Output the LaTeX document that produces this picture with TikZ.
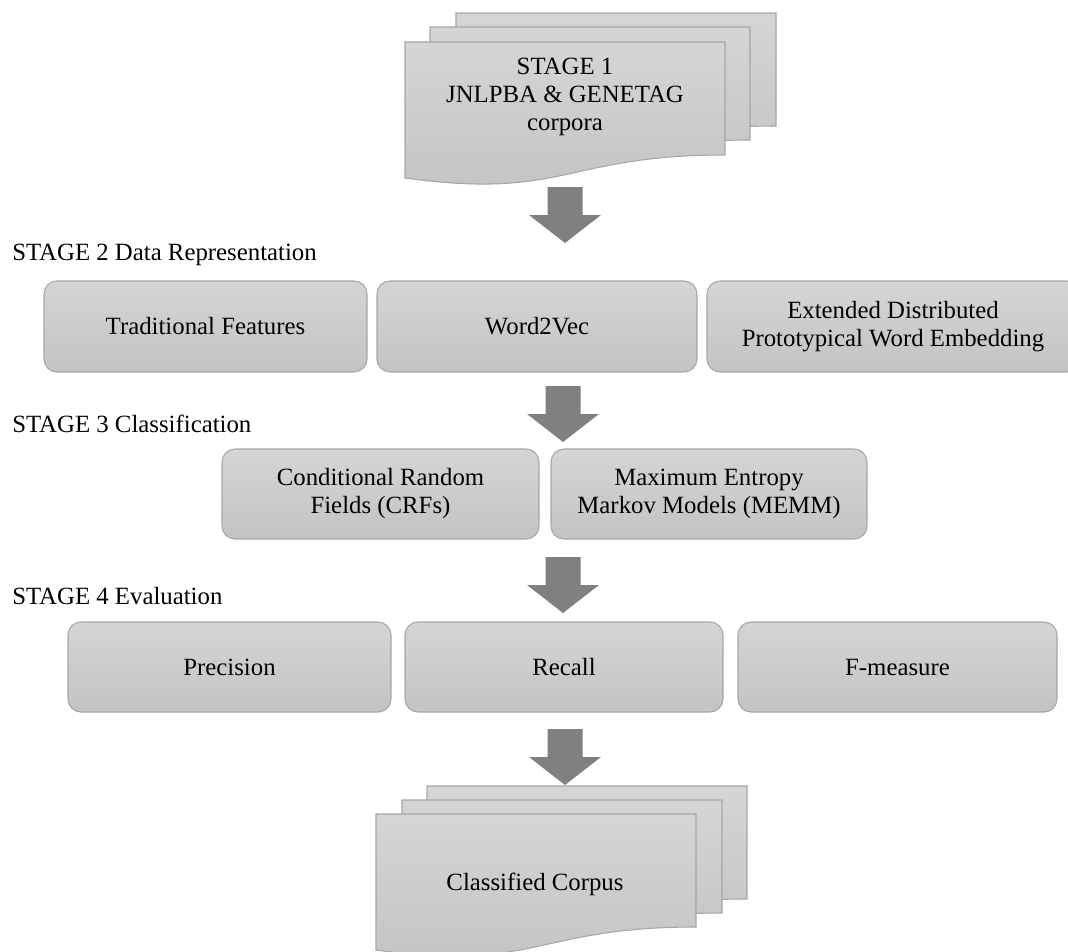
\documentclass[tikz,border=0pt]{standalone}
\usepackage{fontspec}
\setmainfont{Liberation Serif}
\definecolor{boxtop}{RGB}{213,213,213}
\definecolor{boxbot}{RGB}{195,195,195}
\definecolor{boxline}{RGB}{166,166,166}
\definecolor{arrowgray}{RGB}{128,128,128}
\newcommand\mainsize{\fontsize{18.6pt}{21pt}\selectfont}
\tikzset{
  stagebox/.style={draw=boxline, line width=0.8pt, rounded corners=9.75pt,
    top color=boxtop, bottom color=boxbot, inner sep=0pt, align=center, font=\mainsize},
  sheet/.style={draw=boxline, line width=0.8pt, top color=boxtop, bottom color=boxbot},
  stagelabel/.style={anchor=base west, inner sep=0pt, font=\mainsize},
  sheettext/.style={inner sep=0pt, align=center, font=\mainsize},
  downarrow/.pic={\fill[arrowgray] (-17.5,0) -- (17.5,0) -- (17.5,28) -- (36,28)
    -- (0,56) -- (-36,28) -- (-17.5,28) -- cycle;},
  docsheet/.pic={\path[sheet] (0,0) -- (320,0) -- (320,113)
    .. controls (160,113) and (160,158) .. (0,136) -- cycle;}
}
\begin{document}
\begin{tikzpicture}[x=0.75pt,y=-0.75pt]
\useasboundingbox (0,0) rectangle (1068,951);
% Stage 1 stack
\pic at (456,13) {docsheet};
\pic at (430,27) {docsheet};
\pic at (405,42) {docsheet};
\node[sheettext] (stage1) at (565,96.5) {STAGE 1\\JNLPBA \& GENETAG\\corpora};
\pic at (565,187) {downarrow};
% Stage 2
\node[stagelabel] (lab2) at (12,260) {STAGE 2 Data Representation};
\node[stagebox, minimum width=323*0.75pt, minimum height=91*0.75pt] (tf) at (205.5,326.5) {Traditional Features};
\node[stagebox, minimum width=320*0.75pt, minimum height=91*0.75pt] (w2v) at (537,326.5) {Word2Vec};
\node[stagebox, minimum width=372*0.75pt, minimum height=91*0.75pt] (edp) at (893,326.5) {Extended Distributed\\Prototypical Word Embedding};
\pic at (563,386) {downarrow};
% Stage 3
\node[stagelabel] (lab3) at (12,432) {STAGE 3 Classification};
\node[stagebox, minimum width=317*0.75pt, minimum height=90*0.75pt] (crf) at (380.5,494) {Conditional Random\\Fields (CRFs)};
\node[stagebox, minimum width=316*0.75pt, minimum height=90*0.75pt] (memm) at (709,494) {Maximum Entropy\\Markov Models (MEMM)};
\pic at (563,557) {downarrow};
% Stage 4
\node[stagelabel] (lab4) at (12,604) {STAGE 4 Evaluation};
\node[stagebox, minimum width=323*0.75pt, minimum height=90*0.75pt] (prec) at (229.5,667) {Precision};
\node[stagebox, minimum width=318*0.75pt, minimum height=90*0.75pt] (rec) at (564,667) {Recall};
\node[stagebox, minimum width=319*0.75pt, minimum height=90*0.75pt] (fm) at (897.5,667) {F-measure};
\pic at (565,729) {downarrow};
% Output stack
\pic at (427,786) {docsheet};
\pic at (402,800) {docsheet};
\pic at (376,814) {docsheet};
\node[sheettext] (corpus) at (535,884) {Classified Corpus};
\end{tikzpicture}
\end{document}
